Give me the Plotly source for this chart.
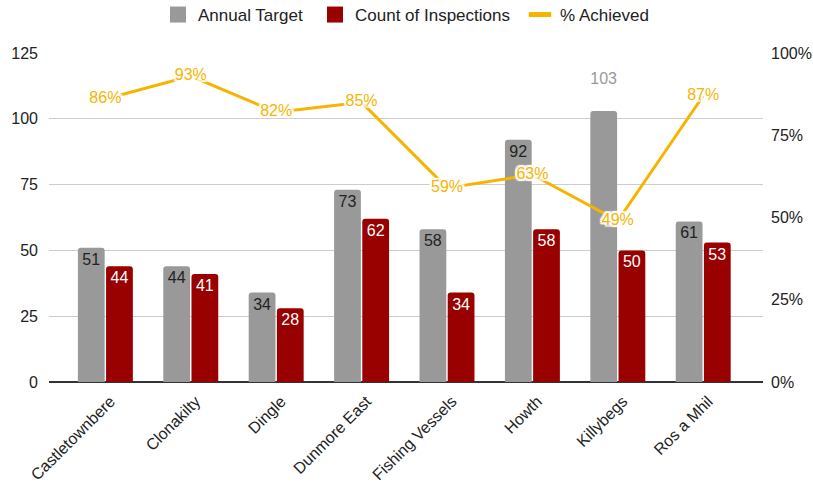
import plotly.graph_objects as go

categories = ["Castletownbere", "Clonakilty", "Dingle", "Dunmore East",
              "Fishing Vessels", "Howth", "Killybegs", "Ros a Mhil"]
annual_target = [51, 44, 34, 73, 58, 92, 103, 61]
count_inspections = [44, 41, 28, 62, 34, 58, 50, 53]
pct_achieved = [0.86, 0.93, 0.82, 0.85, 0.59, 0.63, 0.49, 0.87]
left_ticks = [0, 25, 50, 75, 100, 125]
right_ticks = [0, 0.25, 0.5, 0.75, 1.0]

GREY = "#999999"
RED = "#990000"
YELLOW = "#f6b400"
FONT = "Liberation Sans, Arial, sans-serif"
W, H = 813, 486

grey_pos = ["outside" if v > 100 else "inside" for v in annual_target]
grey_col = [GREY if v > 100 else "#222222" for v in annual_target]
grey_txt = [f"{v}<br> " if v > 100 else str(v) for v in annual_target]

fig = go.Figure()
fig.add_trace(go.Bar(
    x=categories, y=annual_target, name="Annual Target", showlegend=False,
    marker=dict(color=GREY, line=dict(width=0)),
    text=grey_txt, textposition=grey_pos,
    insidetextanchor="end", textfont=dict(color=grey_col, size=16, family=FONT),
    constraintext="none", cliponaxis=False, hoverinfo="skip",
))
fig.add_trace(go.Bar(
    x=categories, y=count_inspections, name="Count of Inspections", showlegend=False,
    marker=dict(color=RED, line=dict(width=0)),
    text=[str(v) for v in count_inspections], textposition="inside",
    insidetextanchor="end", textfont=dict(color="white", size=16, family=FONT),
    constraintext="none", hoverinfo="skip",
))
halo = ", ".join(f"{dx}px {dy}px 1px white" for dx in (-2, 0, 2) for dy in (-2, 0, 2))
fig.add_trace(go.Scatter(
    x=categories, y=pct_achieved, name="% Achieved", yaxis="y2", showlegend=False,
    mode="lines+text", line=dict(color=YELLOW, width=3),
    text=[f"{round(v*100)}%" for v in pct_achieved], textposition="middle center",
    textfont=dict(color=YELLOW, size=16, family=FONT, shadow=halo),
    cliponaxis=False, hoverinfo="skip",
))

# legend entries (one legend per entry so they can be spaced like the original)
legend_items = [
    ("Annual Target", dict(symbol="square", size=17, color=GREY), 158),
    ("Count of Inspections", dict(symbol="square", size=17, color=RED), 315),
    ("% Achieved", dict(symbol="line-ew", size=17, line=dict(color=YELLOW, width=5)), 520),
]
legend_layout = {}
for i, (name, mk, px) in enumerate(legend_items):
    lg = "legend" if i == 0 else f"legend{i+1}"
    fig.add_trace(go.Scatter(x=[None], y=[None], mode="markers", name=name,
                             marker=mk, legend=lg, showlegend=True))
    legend_layout[lg] = dict(orientation="h", xref="container", yref="container",
                             x=px / W, xanchor="left", y=1 - 15 / H, yanchor="middle",
                             font=dict(size=17, color="#222222", family=FONT),
                             bgcolor="rgba(0,0,0,0)", itemwidth=30)

fig.update_layout(
    width=W, height=H,
    margin=dict(l=49, r=50, t=53, b=104, autoexpand=False),
    paper_bgcolor="white", plot_bgcolor="white",
    font=dict(family=FONT, size=15, color="#222222"),
    barmode="group", bargap=0.34, bargroupgap=0.05, barcornerradius=3,
    xaxis=dict(range=[-0.66, 7.70], tickangle=-45, showgrid=False,
               tickfont=dict(size=16, color="#222222"), ticks="",
               ticklabelstandoff=6, ticklabelshift=5,
               showline=False, zeroline=False, automargin=False),
    yaxis=dict(range=[0, 125], tickvals=left_ticks, showgrid=True,
               gridcolor="#cccccc", gridwidth=1, zeroline=True,
               zerolinecolor="#333333", zerolinewidth=1.5,
               tickfont=dict(size=16, color="#222222"), ticks="",
               ticklabelstandoff=10, automargin=False),
    yaxis2=dict(range=[0, 1], tickvals=right_ticks, tickformat=".0%",
                overlaying="y", side="right", showgrid=False, zeroline=False,
                tickfont=dict(size=16, color="#222222"), ticks="",
                ticklabelstandoff=7, automargin=False),
    **legend_layout,
)

fig.write_html("out.html", config={"displayModeBar": False},
               post_script="document.body.style.margin='0px';")
